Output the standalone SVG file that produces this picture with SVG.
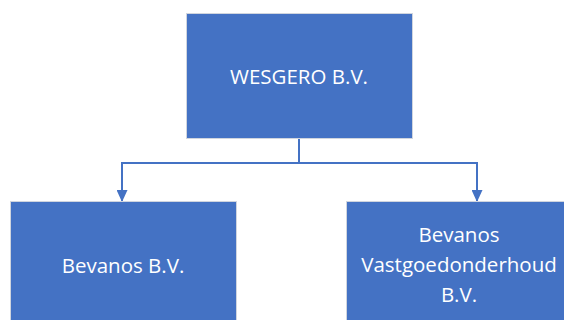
<svg xmlns="http://www.w3.org/2000/svg" width="564" height="320" viewBox="0 0 564 320">
<style>
.box{fill:#4472C4;stroke:#D0D5DE;stroke-width:1}
.lbl{fill:#FFFFFF;font-family:"Open Sans","Noto Sans",sans-serif;font-size:20.5px;text-anchor:middle;dominant-baseline:central}
.conn{fill:none;stroke:#4472C4;stroke-width:2}
</style>
<defs>
<marker id="arr" markerWidth="12" markerHeight="11" refX="11" refY="5.5" orient="auto" markerUnits="userSpaceOnUse" viewBox="0 0 12 11">
<path d="M0,0 L12,5.5 L0,11 Z" fill="#4472C4"/>
</marker>
</defs>
<g id="connectors">
<path class="conn" d="M299,138 V163 H122 V201" marker-end="url(#arr)"/>
<path class="conn" d="M299,163 H477 V201" marker-end="url(#arr)"/>
</g>
<g id="wesgero">
<rect class="box" x="186.5" y="13.5" width="226" height="125"/>
<text class="lbl" x="299" y="76">WESGERO B.V.</text>
</g>
<g id="bevanos">
<rect class="box" x="10.5" y="201.5" width="226" height="125"/>
<text class="lbl" x="123" y="265">Bevanos B.V.</text>
</g>
<g id="vastgoed">
<rect class="box" x="346.5" y="201.5" width="226" height="125"/>
<text class="lbl" x="459" y="234">Bevanos</text>
<text class="lbl" x="459" y="264">Vastgoedonderhoud</text>
<text class="lbl" x="459" y="294">B.V.</text>
</g>
</svg>
